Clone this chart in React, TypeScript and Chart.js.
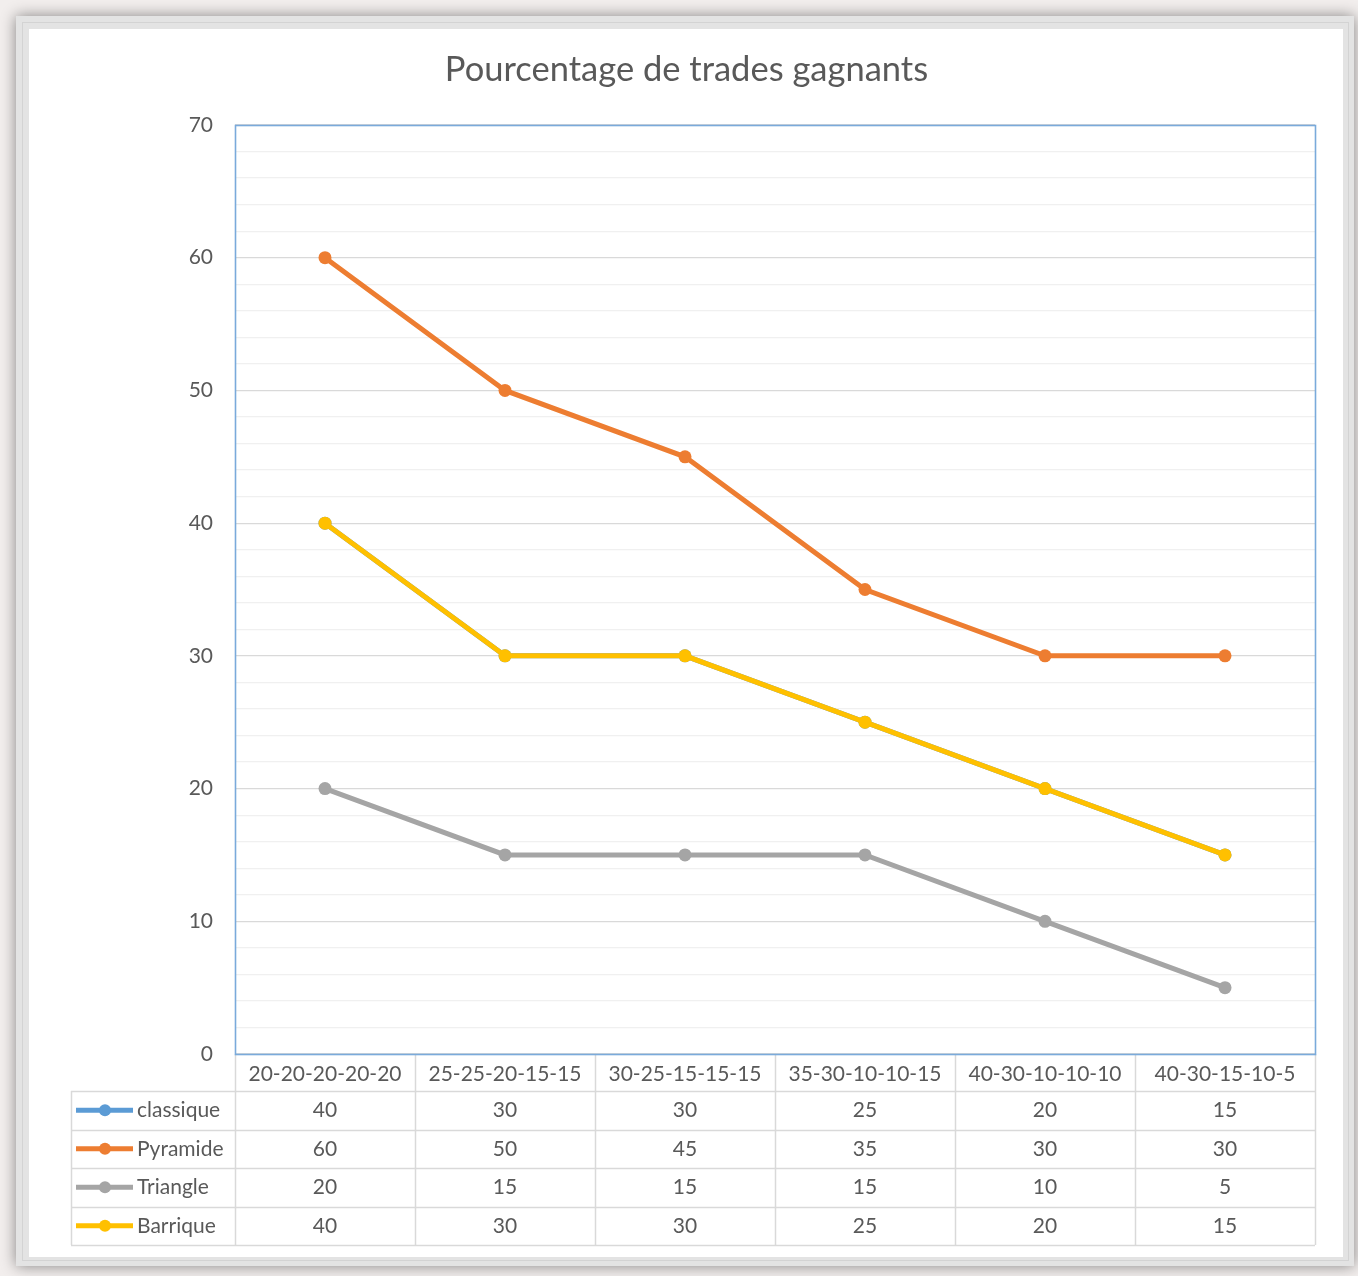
import React, { useEffect, useRef } from 'react';
import { Chart, registerables } from 'chart.js';

Chart.register(...registerables);

const TITLE = 'Pourcentage de trades gagnants';
const categories = ['20-20-20-20-20', '25-25-20-15-15', '30-25-15-15-15', '35-30-10-10-15', '40-30-10-10-10', '40-30-15-10-5'];
const seriesNames = ['classique', 'Pyramide', 'Triangle', 'Barrique'];
const classique = [40, 30, 30, 25, 20, 15];
const pyramide = [60, 50, 45, 35, 30, 30];
const triangle = [20, 15, 15, 15, 10, 5];
const barrique = [40, 30, 30, 25, 20, 15];
const seriesValues = [classique, pyramide, triangle, barrique];
const seriesColors = ['#5B9BD5', '#ED7D31', '#A5A5A5', '#FFC000'];
const Y_MIN = 0;
const Y_MAX = 70;
const Y_MAJOR = 10;
const Y_MINOR = 2;

const W = 1358;
const H = 1276;
const FONT = 'Lato, "Open Sans", sans-serif';
const TEXT = '#595959';
const ROW_H = 38.5;

const framePlugin = {
  id: 'frame',
  beforeDraw(chart: any) {
    const ctx = chart.ctx;
    ctx.save();
    ctx.fillStyle = '#f2eeed';
    ctx.fillRect(0, 0, W, H);
    ctx.shadowColor = 'rgba(0,0,0,0.45)';
    ctx.shadowBlur = 14;
    ctx.fillStyle = '#e3e3e3';
    ctx.fillRect(16, 16, 1338, 1250);
    ctx.shadowColor = 'transparent';
    ctx.shadowBlur = 0;
    ctx.strokeStyle = '#d3d3d3';
    ctx.lineWidth = 1;
    ctx.strokeRect(22.5, 22.5, 1326, 1238);
    ctx.fillStyle = '#ffffff';
    ctx.fillRect(29, 29, 1314, 1228);
    // title
    ctx.fillStyle = TEXT;
    ctx.font = `34.5px ${FONT}`;
    ctx.textAlign = 'center';
    ctx.textBaseline = 'alphabetic';
    ctx.fillText(TITLE, 686.5, 81);
    ctx.restore();
  },
  afterDraw(chart: any) {
    const ctx = chart.ctx;
    const area = chart.chartArea;
    const x = chart.scales.x;
    const n = categories.length;
    const tableTop = area.bottom;
    const headerBottom = tableTop + 37;
    const tableBottom = headerBottom + ROW_H * seriesNames.length;
    const legendLeft = 71;
    ctx.save();
    // table lines
    ctx.strokeStyle = '#d9d9d9';
    ctx.lineWidth = 1.5;
    ctx.beginPath();
    for (let i = 0; i <= n; i++) {
      const px = Math.round(x.getPixelForValue(i - 0.5)) + 0.5;
      ctx.moveTo(px, tableTop);
      ctx.lineTo(px, tableBottom);
    }
    ctx.moveTo(legendLeft + 0.5, headerBottom);
    ctx.lineTo(legendLeft + 0.5, tableBottom);
    for (let r = 0; r <= seriesNames.length; r++) {
      const py = Math.round(headerBottom + r * ROW_H) + 0.5;
      ctx.moveTo(legendLeft, py);
      ctx.lineTo(area.right, py);
    }
    ctx.stroke();
    // plot area border
    ctx.strokeStyle = '#7AAADB';
    ctx.lineWidth = 1.6;
    ctx.strokeRect(area.left + 0.5, area.top + 0.5, area.right - area.left, area.bottom - area.top);
    // rows
    ctx.font = `21px ${FONT}`;
    ctx.textBaseline = 'middle';
    for (let r = 0; r < seriesNames.length; r++) {
      const cy = headerBottom + r * ROW_H + ROW_H / 2;
      const col = seriesColors[r];
      ctx.strokeStyle = col;
      ctx.lineWidth = 5;
      ctx.lineCap = 'butt';
      ctx.beginPath();
      ctx.moveTo(76, cy);
      ctx.lineTo(133, cy);
      ctx.stroke();
      ctx.fillStyle = col;
      ctx.beginPath();
      ctx.arc(105, cy, 6, 0, Math.PI * 2);
      ctx.fill();
      ctx.fillStyle = TEXT;
      ctx.textAlign = 'left';
      ctx.fillText(seriesNames[r], 137, cy);
      ctx.textAlign = 'center';
      const vals = seriesValues[r];
      for (let i = 0; i < n; i++) {
        ctx.fillText(String(vals[i]), x.getPixelForValue(i), cy);
      }
    }
    ctx.restore();
  },
};

export default function App() {
  const ref = useRef<HTMLCanvasElement | null>(null);
  useEffect(() => {
    if (!ref.current) return;
    const orders = [3, 2, 1, 0];
    const chart = new Chart(ref.current, {
      type: 'line',
      data: {
        labels: categories,
        datasets: seriesNames.map((name, i) => ({
          label: name,
          data: seriesValues[i],
          borderColor: seriesColors[i],
          backgroundColor: seriesColors[i],
          pointBackgroundColor: seriesColors[i],
          pointBorderWidth: 0,
          pointRadius: 6.5,
          borderWidth: 5,
          tension: 0,
          fill: false,
          order: orders[i],
        })),
      },
      options: {
        responsive: false,
        animation: false,
        layout: { padding: { top: 125, left: 0, right: 43, bottom: 185 } },
        plugins: {
          legend: { display: false },
          title: { display: false },
          tooltip: { enabled: false },
        },
        scales: {
          x: {
            type: 'category',
            offset: true,
            grid: { display: false, drawTicks: false },
            border: { display: false },
            ticks: {
              color: TEXT,
              font: { family: FONT, size: 21 },
              padding: 8,
              maxRotation: 0,
              autoSkip: false,
            },
            afterFit: (s: any) => {
              s.height = 37;
            },
          },
          y: {
            min: Y_MIN,
            max: Y_MAX,
            grid: {
              drawTicks: false,
              color: (c: any) => (c.tick && c.tick.value % Y_MAJOR === 0 ? '#d9d9d9' : '#f0f0f0'),
              lineWidth: 1.2,
            },
            border: { display: false },
            ticks: {
              stepSize: Y_MINOR,
              autoSkip: false,
              color: TEXT,
              font: { family: FONT, size: 21 },
              padding: 22,
              callback: (v: any) => (Number(v) % Y_MAJOR === 0 ? String(v) : ''),
            },
            afterFit: (s: any) => {
              s.width = 235;
            },
          },
        },
      },
      plugins: [framePlugin],
    });
    return () => chart.destroy();
  }, []);
  return (
    <div style={{ position: 'absolute', left: 0, top: 0, width: W, height: H }}>
      <canvas ref={ref} width={W} height={H} style={{ display: 'block' }} />
    </div>
  );
}
